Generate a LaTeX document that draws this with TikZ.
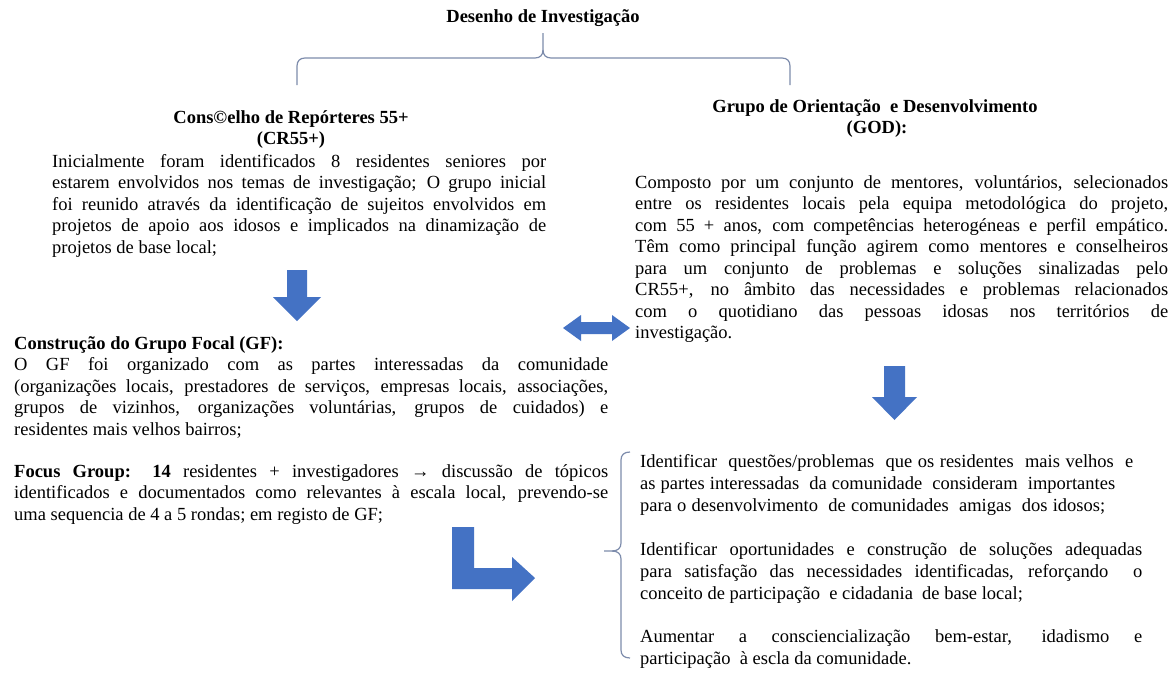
\documentclass[tikz,border=0pt]{standalone}
\usepackage{fontspec}
\setmainfont{Liberation Serif}
\definecolor{arrowblue}{RGB}{68,114,196}
\definecolor{bracegray}{RGB}{125,140,172}
\newcommand\jl[2]{\makebox[#1pt][s]{#2}\\}
\begin{document}
\begin{tikzpicture}[x=1pt,y=-1pt,
  txt/.style={anchor=base west,inner sep=0pt,font=\fontsize{18.5}{21.5}\selectfont},
  txtb/.style={anchor=base west,inner sep=0pt,font=\fontsize{18.5}{22}\selectfont},
  hd/.style={anchor=base,inner sep=0pt,font=\fontsize{18.5}{21.5}\selectfont\bfseries},
  blockarrow/.style={fill=arrowblue,draw=none},
  bracepath/.style={draw=bracegray,line width=1.2pt,line join=round}]
\fill[white] (0,0) rectangle (1176,678);
\useasboundingbox (0,0) rectangle (1176,678);

% title and top brace
\node[hd] (title) at (543,22) {Desenho de Investigação};
\draw[bracepath] (297,85) -- (297,66) .. controls (297,61) and (300,58) .. (305,58)
  -- (535,58) .. controls (540,58) and (543,55) .. (543,50) -- (543,33);
\draw[bracepath] (543,50) .. controls (543,55) and (546,58) .. (551,58)
  -- (782,58) .. controls (787,58) and (790,61) .. (790,66) -- (790,85);

% left column
\node[hd] (crh1) at (291,123) {Cons©elho de Repórteres 55+};
\node[hd] (crh2) at (291,144) {(CR55+)};
\node[txt] (crp) at (52,167) {\parbox[t]{494pt}{%
\jl{494}{Inicialmente foram identificados 8 residentes seniores por}
\jl{494}{estarem envolvidos nos temas de investigação; O grupo inicial}
\jl{494}{foi reunido através da identificação de sujeitos envolvidos em}
\jl{494}{projetos de apoio aos idosos e implicados na dinamização de}
projetos de base local;}};

% down arrow left
\path[blockarrow] (287,270) -- (307,270) -- (307,297) -- (321,297) -- (297,321)
  -- (273,297) -- (287,297) -- cycle;

\node[txt] (gf) at (14,349) {\parbox[t]{594pt}{%
\textbf{Construção do Grupo Focal (GF):}\\
\jl{594}{O GF foi organizado com as partes interessadas da comunidade}
\jl{594}{(organizações locais, prestadores de serviços, empresas locais, associações,}
\jl{594}{grupos de vizinhos, organizações voluntárias, grupos de cuidados) e}
residentes mais velhos bairros;}};

\node[txt] (fg) at (14,477) {\parbox[t]{594pt}{%
\jl{594}{\textbf{Focus Group: 14} residentes + investigadores → discussão de tópicos}
\jl{594}{identificados e documentados como relevantes à escala local, prevendo-se}
uma sequencia de 4 a 5 rondas; em registo de GF;}};

% L arrow
\path[blockarrow] (452,527) -- (474,527) -- (474,568) -- (512,568) -- (512,557)
  -- (535,578) -- (512,601) -- (512,589) -- (452,589) -- cycle;

% double arrow
\path[blockarrow] (563,328) -- (581,315) -- (581,322) -- (612,322) -- (612,315)
  -- (630,328) -- (612,341) -- (612,334) -- (581,334) -- (581,341) -- cycle;

% right column
\node[hd] (godh1) at (875,112) {Grupo de Orientação\ \ e Desenvolvimento};
\node[hd] (godh2) at (877,133) {(GOD):};
\node[txt] (godp) at (635,188) {\parbox[t]{533pt}{%
\jl{533}{Composto por um conjunto de mentores, voluntários, selecionados}
\jl{533}{entre os residentes locais pela equipa metodológica do projeto,}
\jl{533}{com 55 + anos, com competências heterogéneas e perfil empático.}
\jl{533}{Têm como principal função agirem como mentores e conselheiros}
\jl{533}{para um conjunto de problemas e soluções sinalizadas pelo}
\jl{533}{CR55+, no âmbito das necessidades e problemas relacionados}
\jl{533}{com o quotidiano das pessoas idosas nos territórios de}
investigação.}};

% down arrow right
\path[blockarrow] (884,366) -- (905,366) -- (905,397) -- (917,397) -- (894.5,420)
  -- (872,397) -- (884,397) -- cycle;

% right brace
\draw[bracepath] (630,452) .. controls (624,452) and (621,455) .. (621,460) -- (621,543)
  .. controls (621,548) and (618,551) .. (612,551) -- (604,551);
\draw[bracepath] (612,551) .. controls (618,551) and (621,554) .. (621,559) -- (621,650)
  .. controls (621,655) and (624,658) .. (630,658);

\node[txtb] (oa) at (640,467) {\parbox[t]{502pt}{%
\jl{493}{Identificar\ \ questões/problemas\ \ que os residentes\ \ mais\ velhos\ \ e}
\jl{475}{as partes interessadas\ \ da comunidade\ \ consideram\ \ importantes}
\jl{465}{para o desenvolvimento\ \ de comunidades\ \ amigas\ \ dos idosos;}}};
\node[txtb] (ob) at (640,555) {\parbox[t]{502pt}{%
\jl{502}{Identificar oportunidades e construção de soluções adequadas}
\jl{502}{para satisfação das necessidades identificadas, reforçando\ \ o}
conceito\ de participação\ \ e cidadania\ \ de base local;}};
\node[txtb] (oc) at (640,642) {\parbox[t]{502pt}{%
\jl{502}{Aumentar a consciencialização bem-estar, idadismo e}
participação\ \ à escla da comunidade.}};
\end{tikzpicture}
\end{document}
